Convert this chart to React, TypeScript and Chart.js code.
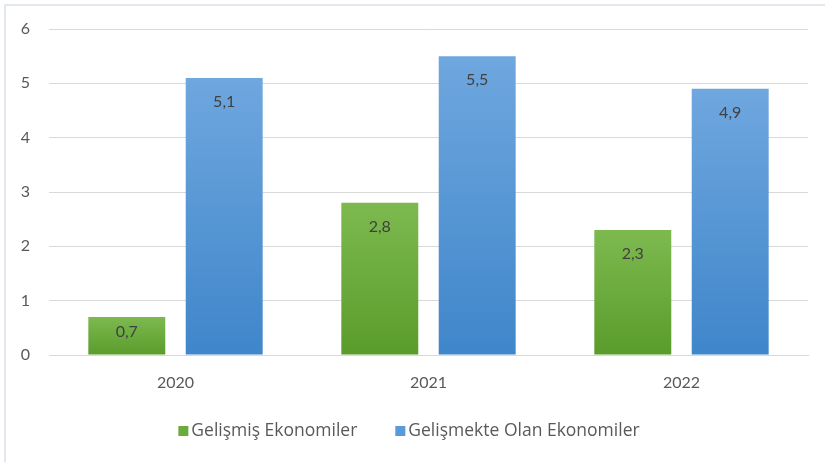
import React, { useEffect, useRef } from "react";
import { Chart, registerables } from "chart.js";

Chart.register(...registerables);

const categories = ["2020", "2021", "2022"];
const gelismis = [0.7, 2.8, 2.3];
const gelismekte = [5.1, 5.5, 4.9];
const seriesNames = ["Gelişmiş Ekonomiler", "Gelişmekte Olan Ekonomiler"];
const legendColors = ["#6aab3c", "#5a9ad8"];
const yTicks = [0, 1, 2, 3, 4, 5, 6];

const FONT = "Lato, 'Open Sans', sans-serif";
const LEGEND_FONT = "'Open Sans', sans-serif";

function gradientFor(top: string, bottom: string) {
  return (ctx: any) => {
    const chart = ctx.chart;
    const area = chart.chartArea;
    if (!area || ctx.type !== "data") return bottom;
    const y = chart.scales.y;
    const yTop = y.getPixelForValue(ctx.raw);
    const yBot = y.getPixelForValue(0);
    const g = chart.ctx.createLinearGradient(0, yTop, 0, yBot);
    g.addColorStop(0, top);
    g.addColorStop(1, bottom);
    return g;
  };
}

const labelPlugin = {
  id: "barLabels",
  afterDatasetsDraw(chart: any) {
    const ctx = chart.ctx;
    ctx.save();
    ctx.font = `16px ${FONT}`;
    ctx.fillStyle = "#404040";
    ctx.textAlign = "center";
    ctx.textBaseline = "middle";
    chart.data.datasets.forEach((ds: any, i: number) => {
      const meta = chart.getDatasetMeta(i);
      meta.data.forEach((bar: any, j: number) => {
        const v = ds.data[j];
        const h = bar.base - bar.y;
        const off = Math.min(24, h * 0.4);
        ctx.fillText(String(v).replace(".", ","), bar.x, bar.y + off);
      });
    });
    ctx.restore();
  },
};

const legendPlugin = {
  id: "customLegend",
  afterDraw(chart: any) {
    const ctx = chart.ctx;
    ctx.save();
    ctx.font = `17.5px ${LEGEND_FONT}`;
    ctx.textBaseline = "middle";
    ctx.textAlign = "left";
    const box = 10, gap = 3, itemGap = 38;
    const widths = seriesNames.map((t) => ctx.measureText(t).width);
    const total = widths.reduce((a, w) => a + box + gap + w, 0) + itemGap * (seriesNames.length - 1);
    let x = 409 - total / 2;
    const cy = 431;
    seriesNames.forEach((t, i) => {
      ctx.fillStyle = legendColors[i];
      ctx.fillRect(x, cy - box / 2, box, box);
      x += box + gap;
      ctx.fillStyle = "#595959";
      ctx.fillText(t, x, cy);
      x += widths[i] + itemGap;
    });
    ctx.restore();
  },
};

export default function App() {
  const ref = useRef<HTMLCanvasElement | null>(null);
  useEffect(() => {
    if (!ref.current) return;
    const chart = new Chart(ref.current, {
      type: "bar",
      data: {
        labels: categories,
        datasets: [
          {
            label: seriesNames[0],
            data: gelismis,
            backgroundColor: gradientFor("#7db94f", "#5a9c2c"),
            borderWidth: 0,
            barPercentage: 0.79,
            categoryPercentage: 0.77,
          },
          {
            label: seriesNames[1],
            data: gelismekte,
            backgroundColor: gradientFor("#6fa7df", "#3f86ca"),
            borderWidth: 0,
            barPercentage: 0.79,
            categoryPercentage: 0.77,
          },
        ],
      },
      options: {
        responsive: false,
        animation: false,
        maintainAspectRatio: false,
        layout: { padding: { top: 29, right: 17, bottom: 62, left: 0 } },
        plugins: {
          tooltip: { enabled: false },
          legend: { display: false },
        },
        scales: {
          x: {
            grid: { display: false },
            border: { display: true, color: "#d9d9d9" },
            ticks: { color: "#595959", font: { family: FONT, size: 16 }, padding: 10 },
            afterFit: (s: any) => { s.height = 45; },
          },
          y: {
            min: 0,
            max: 6,
            afterBuildTicks: (s: any) => { s.ticks = yTicks.map((v) => ({ value: v })); },
            grid: { color: "#d9d9d9", drawTicks: false },
            border: { display: false },
            ticks: { color: "#595959", font: { family: FONT, size: 16 }, padding: 19 },
            afterFit: (s: any) => { s.width = 49; },
          },
        },
      },
      plugins: [labelPlugin, legendPlugin],
    });
    return () => chart.destroy();
  }, []);
  return (
    <div style={{ position: "fixed", left: 0, top: 0, width: 825, height: 462, background: "#fff" }}>
      <div style={{ position: "absolute", left: 4, top: 4, right: -2, bottom: -2, borderTop: "2px solid #e3e8ee", borderLeft: "2px solid #e3e8ee" }} />
      <canvas ref={ref} width={825} height={462} style={{ position: "absolute", left: 0, top: 0 }} />
    </div>
  );
}
